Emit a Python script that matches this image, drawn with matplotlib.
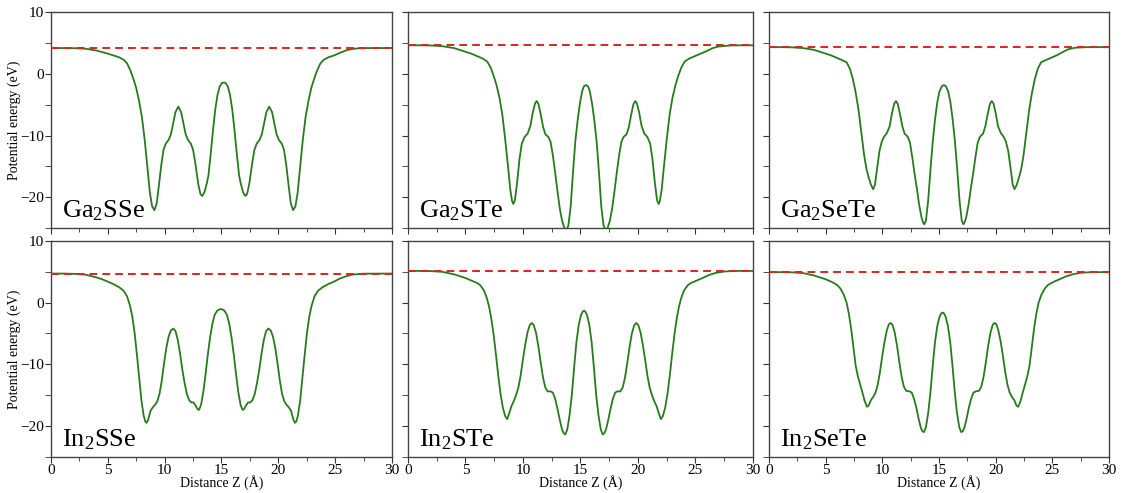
import matplotlib
matplotlib.use("Agg")
import matplotlib.pyplot as plt
from matplotlib.ticker import MultipleLocator, NullFormatter

plt.rcParams["font.family"] = "serif"
plt.rcParams["font.serif"] = ["Liberation Serif", "DejaVu Serif"]
plt.rcParams["mathtext.default"] = "regular"

# planar-averaged electrostatic potential along z, one curve per Janus monolayer
labels = ["Ga$_2$SSe", "Ga$_2$STe", "Ga$_2$SeTe", "In$_2$SSe", "In$_2$STe", "In$_2$SeTe"]
vacuum_levels = [4.2, 4.65, 4.35, 4.72, 5.15, 4.95]

ga2sse_z = [0, 1, 2, 3, 4, 4.5, 5, 5.5, 6, 6.4, 6.7, 7, 7.25, 7.5, 7.75, 8, 8.25, 8.5, 8.7, 8.9,
            9.1, 9.3, 9.5, 9.7, 9.9, 10.1, 10.35, 10.55, 10.75, 10.95, 11.2, 11.45, 11.65, 11.85, 12.05,
            12.3, 12.5, 12.7, 12.95, 13.15, 13.3, 13.5, 13.7, 13.85, 14.05, 14.25, 14.45, 14.65, 14.85,
            15.05, 15.2, 15.35, 15.55, 15.75, 15.95, 16.15, 16.35, 16.55, 16.7, 16.9, 17.1, 17.25, 17.45,
            17.7, 17.9, 18.1, 18.35, 18.55, 18.75, 18.95, 19.2, 19.45, 19.65, 19.85, 20.05, 20.3, 20.5,
            20.7, 20.9, 21.1, 21.3, 21.5, 21.7, 21.9, 22.15, 22.4, 22.65, 22.9, 23.15, 23.4, 23.7, 24.0,
            24.4, 24.9, 25.4, 26.0, 26.5, 27.0, 28.0, 30.0]
ga2sse_v = [4.2, 4.2, 4.18, 4.1, 3.8, 3.55, 3.3, 3.0, 2.7, 2.3, 1.7, 0.5, -0.8, -2.3, -4.4, -7.0, -10.8,
            -15.5, -19.3, -21.5, -22.1, -21.0, -18.0, -14.8, -12.3, -11.3, -10.7, -9.8, -8.0, -6.2, -5.3,
            -6.2, -8.0, -9.8, -10.7, -11.3, -12.3, -14.5, -17.8, -19.5, -19.8, -19.2, -17.8, -16.5, -13.0,
            -9.2, -5.8, -3.4, -2.0, -1.45, -1.4, -1.45, -2.0, -3.4, -5.8, -9.2, -13.0, -16.5, -17.8, -19.2,
            -19.8, -19.5, -17.8, -14.5, -12.3, -11.3, -10.7, -9.8, -8.0, -6.2, -5.3, -6.2, -8.0, -9.8,
            -10.7, -11.3, -12.3, -14.8, -18.0, -21.0, -22.1, -21.5, -19.3, -15.5, -10.8, -7.0, -4.4, -2.3,
            -0.8, 0.5, 1.7, 2.3, 2.7, 3.0, 3.4, 3.85, 4.05, 4.15, 4.2, 4.2]

ga2ste_z = [0, 1, 2, 3, 4, 5, 5.5, 6, 6.5, 6.9, 7.2, 7.45, 7.7, 7.95, 8.2, 8.45, 8.7, 8.9, 9.05, 9.16,
            9.3, 9.5, 9.7, 9.9, 10.15, 10.4, 10.65, 10.85, 11.05, 11.19, 11.35, 11.55, 11.75, 11.95, 12.2,
            12.4, 12.6, 12.8, 13.0, 13.2, 13.4, 13.6, 13.76, 13.95, 14.15, 14.35, 14.55, 14.75, 14.95,
            15.15, 15.3, 15.48, 15.66, 15.81, 16.01, 16.21, 16.41, 16.61, 16.81, 17.01, 17.2, 17.36,
            17.56, 17.76, 17.96, 18.16, 18.36, 18.56, 18.76, 19.01, 19.21, 19.41, 19.61, 19.77, 19.91,
            20.11, 20.31, 20.56, 20.81, 21.06, 21.26, 21.46, 21.66, 21.8, 21.91, 22.06, 22.26, 22.51,
            22.76, 23.01, 23.26, 23.51, 23.76, 24.06, 24.46, 24.96, 25.46, 25.96, 26.5, 27.0, 28.0, 29.0,
            30.0]
ga2ste_v = [4.65, 4.65, 4.62, 4.5, 4.2, 3.6, 3.3, 2.9, 2.5, 2.0, 1.0, -0.3, -1.8, -3.8, -6.5, -10.5,
            -15.0, -18.8, -20.6, -21.1, -20.5, -17.5, -13.8, -11.3, -10.2, -9.7, -8.4, -6.3, -4.8, -4.4,
            -4.9, -6.6, -8.6, -9.8, -10.2, -11.0, -13.2, -16.0, -19.0, -21.8, -23.8, -25.0, -25.4, -24.6,
            -21.5, -16.0, -11.0, -7.6, -4.8, -2.8, -2.0, -1.8, -2.0, -2.8, -4.8, -7.6, -11.0, -16.0, -21.5,
            -24.6, -25.4, -25.0, -23.8, -21.8, -19.0, -16.0, -13.2, -11.0, -10.2, -9.8, -8.6, -6.6, -4.9,
            -4.4, -4.8, -6.3, -8.4, -9.7, -10.2, -11.3, -13.8, -17.5, -20.5, -21.1, -20.6, -18.8, -15.0,
            -10.5, -6.5, -3.8, -1.8, -0.3, 1.0, 2.0, 2.5, 2.9, 3.3, 3.7, 4.2, 4.45, 4.62, 4.65, 4.65]

ga2sete_z = [0, 1, 2, 3, 4, 5, 5.5, 6, 6.5, 6.85, 7.15, 7.4, 7.65, 7.9, 8.15, 8.4, 8.6, 8.8, 9.0, 9.2,
             9.35, 9.55, 9.75, 9.95, 10.15, 10.4, 10.65, 10.85, 11.05, 11.21, 11.37, 11.57, 11.77, 11.97,
             12.25, 12.45, 12.65, 12.85, 13.05, 13.25, 13.45, 13.6, 13.71, 13.85, 14.05, 14.25, 14.45,
             14.65, 14.85, 15.05, 15.25, 15.43, 15.61, 15.81, 16.01, 16.21, 16.41, 16.61, 16.81, 17.01,
             17.15, 17.26, 17.41, 17.61, 17.81, 18.01, 18.21, 18.41, 18.61, 18.89, 19.09, 19.29, 19.49,
             19.65, 19.81, 20.01, 20.21, 20.46, 20.71, 20.91, 21.11, 21.31, 21.51, 21.66, 21.86, 22.06,
             22.26, 22.46, 22.71, 22.96, 23.21, 23.46, 23.71, 24.01, 24.36, 24.86, 25.36, 25.86, 26.4,
             27.0, 28.0, 30.0]
ga2sete_v = [4.35, 4.35, 4.32, 4.2, 3.9, 3.3, 3.0, 2.6, 2.2, 1.9, 0.8, -0.8, -3.0, -5.8, -9.5, -13.2,
             -15.4, -16.8, -18.0, -18.7, -18.0, -15.2, -12.5, -11.0, -10.2, -9.6, -8.5, -6.4, -4.8, -4.4,
             -4.9, -6.6, -8.5, -9.7, -10.2, -11.2, -13.6, -16.2, -18.6, -21.2, -23.2, -24.1, -24.4, -23.8,
             -20.5, -15.5, -11.0, -7.4, -4.6, -2.8, -2.0, -1.8, -2.0, -2.8, -4.6, -7.4, -11.0, -15.5,
             -20.5, -23.8, -24.4, -24.1, -23.2, -21.2, -18.6, -16.2, -13.6, -11.2, -10.2, -9.7, -8.5,
             -6.6, -4.9, -4.4, -4.8, -6.4, -8.5, -9.6, -10.2, -11.0, -12.5, -15.2, -18.0, -18.7, -18.0,
             -16.8, -15.4, -13.2, -9.5, -5.8, -3.0, -0.8, 0.8, 1.9, 2.2, 2.6, 3.0, 3.5, 4.0, 4.25, 4.35,
             4.35]

in2sse_z = [0, 1, 2, 3, 4, 4.5, 5, 5.5, 6, 6.4, 6.7, 6.95, 7.15, 7.35, 7.55, 7.75, 7.95, 8.15, 8.3, 8.41,
            8.55, 8.75, 8.95, 9.15, 9.35, 9.55, 9.75, 9.95, 10.15, 10.35, 10.55, 10.76, 10.95, 11.15,
            11.35, 11.55, 11.75, 11.95, 12.15, 12.35, 12.55, 12.75, 12.9, 13.02, 13.2, 13.4, 13.6, 13.8,
            14.0, 14.2, 14.4, 14.6, 14.8, 14.94, 15.08, 15.28, 15.48, 15.68, 15.88, 16.08, 16.28, 16.48,
            16.68, 16.86, 16.98, 17.13, 17.33, 17.53, 17.73, 17.93, 18.13, 18.33, 18.53, 18.73, 18.93,
            19.12, 19.33, 19.53, 19.73, 19.93, 20.13, 20.33, 20.53, 20.73, 20.93, 21.13, 21.33, 21.47,
            21.58, 21.73, 21.93, 22.13, 22.33, 22.53, 22.73, 22.93, 23.18, 23.48, 23.88, 24.38, 24.88,
            25.4, 26.0, 26.5, 27.5, 30.0]
in2sse_v = [4.72, 4.72, 4.68, 4.55, 4.1, 3.8, 3.4, 3.0, 2.5, 1.9, 1.0, -0.5, -2.2, -4.8, -8.3, -12.0,
            -15.8, -18.3, -19.3, -19.5, -19.0, -17.6, -17.0, -16.6, -16.0, -14.8, -12.6, -9.8, -7.3, -5.5,
            -4.5, -4.2, -4.6, -6.0, -8.2, -10.8, -13.0, -14.8, -15.8, -16.2, -16.2, -16.8, -17.3, -17.4,
            -16.6, -14.5, -11.6, -8.4, -5.6, -3.4, -2.0, -1.35, -1.1, -1.05, -1.1, -1.35, -2.0, -3.4, -5.6,
            -8.4, -11.6, -14.5, -16.6, -17.4, -17.3, -16.8, -16.2, -16.2, -15.8, -14.8, -13.0, -10.8, -8.2,
            -6.0, -4.6, -4.2, -4.5, -5.5, -7.3, -9.8, -12.6, -14.8, -16.0, -16.6, -17.0, -17.6, -19.0,
            -19.5, -19.3, -18.3, -15.8, -12.0, -8.3, -4.8, -2.2, -0.5, 1.0, 1.9, 2.5, 3.0, 3.4, 3.9, 4.3,
            4.55, 4.7, 4.72]

in2ste_z = [0, 1, 2, 3, 4, 4.5, 5, 5.5, 6, 6.3, 6.6, 6.85, 7.05, 7.25, 7.45, 7.65, 7.85, 8.05, 8.25,
            8.45, 8.62, 8.8, 9.0, 9.2, 9.4, 9.6, 9.8, 10.0, 10.2, 10.4, 10.6, 10.78, 10.95, 11.15, 11.35,
            11.55, 11.75, 11.95, 12.15, 12.4, 12.6, 12.8, 13.0, 13.2, 13.4, 13.55, 13.68, 13.85, 14.05,
            14.25, 14.45, 14.65, 14.85, 15.05, 15.2, 15.31, 15.42, 15.57, 15.77, 15.97, 16.17, 16.37,
            16.57, 16.77, 16.94, 17.07, 17.22, 17.42, 17.62, 17.82, 18.02, 18.22, 18.47, 18.67, 18.87,
            19.07, 19.27, 19.47, 19.67, 19.84, 20.02, 20.22, 20.42, 20.62, 20.82, 21.02, 21.22, 21.42,
            21.62, 21.82, 22.0, 22.17, 22.37, 22.57, 22.77, 22.97, 23.17, 23.37, 23.57, 23.77, 24.02,
            24.32, 24.62, 25.12, 25.62, 26.2, 26.8, 27.5, 28.5, 30.0]
in2ste_v = [5.15, 5.15, 5.12, 5.0, 4.6, 4.3, 4.0, 3.6, 3.2, 2.8, 2.0, 0.8, -0.6, -2.6, -5.2, -8.4, -11.8,
            -14.8, -17.0, -18.4, -18.9, -18.0, -16.8, -16.0, -15.0, -13.8, -11.8, -9.2, -6.8, -4.8, -3.6,
            -3.3, -3.7, -5.0, -7.2, -9.8, -12.2, -13.8, -14.4, -14.4, -14.6, -15.6, -17.2, -19.0, -20.6,
            -21.2, -21.4, -20.6, -18.3, -15.0, -10.5, -6.4, -3.6, -2.0, -1.45, -1.3, -1.45, -2.0, -3.6,
            -6.4, -10.5, -15.0, -18.3, -20.6, -21.4, -21.2, -20.6, -19.0, -17.2, -15.6, -14.6, -14.4,
            -14.4, -13.8, -12.2, -9.8, -7.2, -5.0, -3.7, -3.3, -3.6, -4.8, -6.8, -9.2, -11.8, -13.8,
            -15.0, -16.0, -16.8, -18.0, -18.9, -18.4, -17.0, -14.8, -11.8, -8.4, -5.2, -2.6, -0.6, 0.8,
            2.0, 2.8, 3.2, 3.6, 4.0, 4.5, 4.85, 5.05, 5.15, 5.15]

in2sete_z = [0, 1, 2, 3, 4, 4.5, 5, 5.5, 6, 6.3, 6.6, 6.85, 7.05, 7.25, 7.45, 7.65, 7.85, 8.05, 8.25,
             8.45, 8.65, 8.8, 9.0, 9.2, 9.4, 9.6, 9.8, 10.0, 10.2, 10.4, 10.58, 10.74, 10.9, 11.1, 11.3,
             11.5, 11.7, 11.9, 12.1, 12.4, 12.6, 12.8, 13.0, 13.2, 13.4, 13.55, 13.68, 13.85, 14.05,
             14.25, 14.45, 14.65, 14.85, 15.05, 15.2, 15.32, 15.44, 15.59, 15.79, 15.99, 16.19, 16.39,
             16.59, 16.79, 16.96, 17.09, 17.24, 17.44, 17.64, 17.84, 18.04, 18.24, 18.54, 18.74, 18.94,
             19.14, 19.34, 19.54, 19.74, 19.9, 20.06, 20.24, 20.44, 20.64, 20.84, 21.04, 21.24, 21.44,
             21.64, 21.84, 21.99, 22.19, 22.39, 22.59, 22.79, 22.99, 23.19, 23.39, 23.59, 23.79, 24.04,
             24.34, 24.64, 25.14, 25.64, 26.2, 26.8, 27.5, 28.5, 30.0]
in2sete_v = [4.95, 4.95, 4.92, 4.8, 4.4, 4.1, 3.8, 3.4, 2.9, 2.3, 1.3, 0.0, -1.8, -4.2, -7.2, -10.2,
             -12.0, -13.3, -14.6, -16.0, -16.9, -16.7, -15.8, -15.3, -14.6, -13.3, -11.2, -8.6, -6.3,
             -4.5, -3.5, -3.3, -3.6, -4.9, -7.0, -9.6, -12.0, -13.6, -14.3, -14.4, -14.6, -15.6, -17.0,
             -18.8, -20.3, -20.9, -21.0, -20.2, -17.9, -14.5, -10.2, -6.4, -3.8, -2.3, -1.75, -1.6, -1.75,
             -2.3, -3.8, -6.4, -10.2, -14.5, -17.9, -20.2, -21.0, -20.9, -20.3, -18.8, -17.0, -15.6,
             -14.6, -14.4, -14.3, -13.6, -12.0, -9.6, -7.0, -4.9, -3.6, -3.3, -3.5, -4.5, -6.3, -8.6,
             -11.2, -13.3, -14.6, -15.3, -15.8, -16.7, -16.9, -16.0, -14.6, -13.3, -12.0, -10.2, -7.2,
             -4.2, -1.8, 0.0, 1.3, 2.3, 2.9, 3.4, 3.8, 4.25, 4.6, 4.85, 4.95, 4.95]

profiles = [(ga2sse_z, ga2sse_v), (ga2ste_z, ga2ste_v), (ga2sete_z, ga2sete_v),
            (in2sse_z, in2sse_v), (in2ste_z, in2ste_v), (in2sete_z, in2sete_v)]

fig = plt.figure(figsize=(11.26, 4.93), dpi=100)

# panel boxes in figure fractions: [left, bottom, width, height]
col_left = [0.0453, 0.3623, 0.6829]
col_width = [0.3028, 0.3064, 0.3020]
row_bottom = [0.5375, 0.0736]
row_height = 0.4375

for i, (label, vac, (z, v)) in enumerate(zip(labels, vacuum_levels, profiles)):
    r, c = divmod(i, 3)
    ax = fig.add_axes([col_left[c], row_bottom[r], col_width[c], row_height])
    ax.plot(z, v, color="#287a1f", lw=1.3, zorder=2)
    ax.axhline(vac, color="#d9261c", lw=1.4, dashes=(4, 2.6), zorder=3)

    ax.set_xlim(0, 30)
    ax.set_ylim(-25, 10)
    ax.xaxis.set_major_locator(MultipleLocator(5))
    ax.xaxis.set_minor_locator(MultipleLocator(2.5))
    ax.yaxis.set_major_locator(MultipleLocator(10))
    ax.yaxis.set_minor_locator(MultipleLocator(5))
    ax.tick_params(which="both", direction="out", colors="#333333", labelcolor="black",
                   labelsize=11, pad=1)
    ax.tick_params(axis="x", which="major", length=4.5, pad=0.5)
    ax.tick_params(axis="x", which="minor", length=3)
    ax.tick_params(axis="y", which="both", length=4)
    for sp in ax.spines.values():
        sp.set_color("#444444")
        sp.set_linewidth(1.0)

    if r == 0:
        ax.xaxis.set_major_formatter(NullFormatter())
    else:
        ax.set_xlabel("Distance Z (Å)", fontsize=10, labelpad=-1.5)
    if c == 0:
        ax.set_ylabel("Potential energy (eV)", fontsize=10, labelpad=-0.5)
    else:
        ax.yaxis.set_major_formatter(NullFormatter())

    ax.text(0.032, 0.05, label, transform=ax.transAxes, fontsize=19,
            ha="left", va="baseline", zorder=4)

fig.savefig("out.png", dpi=100)
